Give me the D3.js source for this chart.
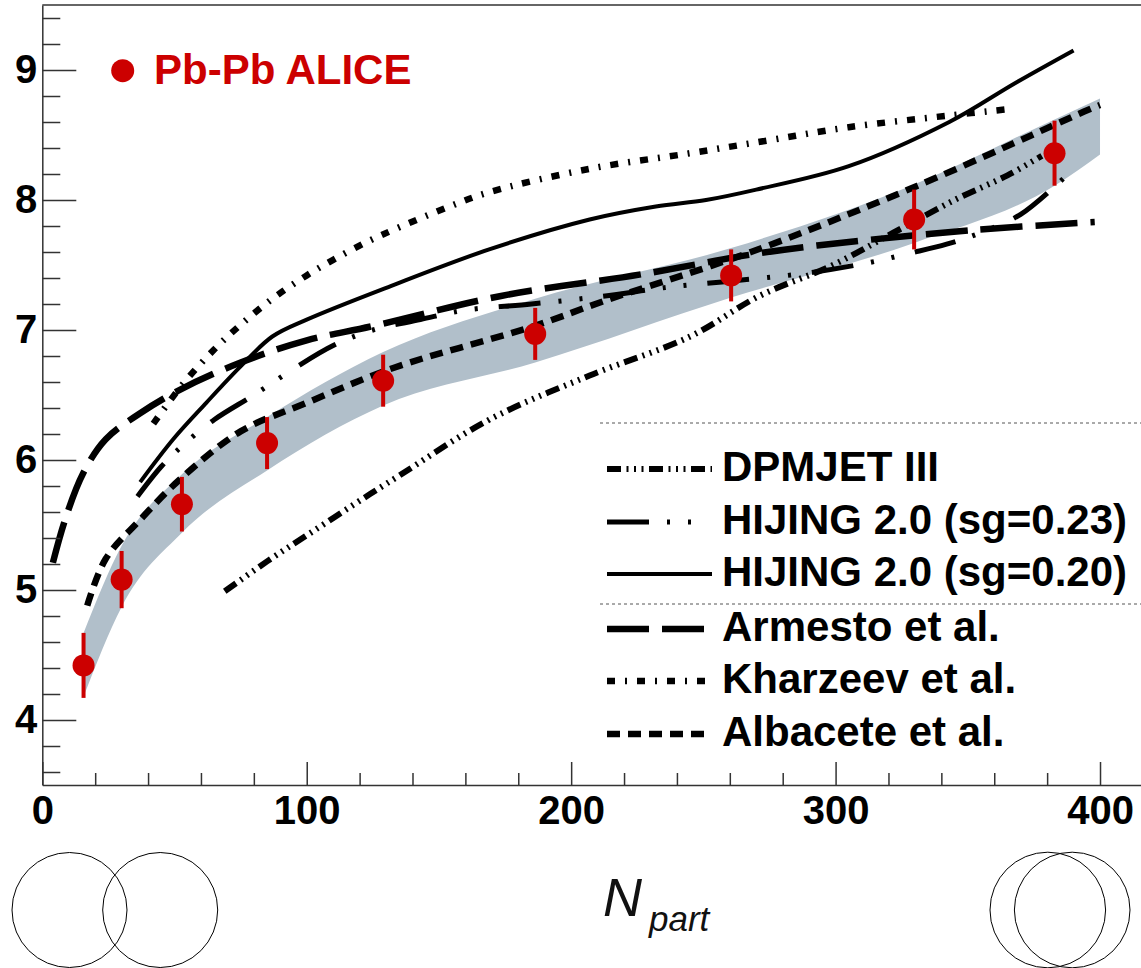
<!DOCTYPE html>
<html>
<head>
<meta charset="utf-8">
<style>
    body { margin: 0; background: #fff; }
    svg { display: block; font-family: 'Liberation Sans', Arial, Helvetica, sans-serif; }
    .axis text { font-size: 40px; font-weight: bold; fill: #000; }
    .axis line, .axis path { stroke: #333; stroke-width: 1.5; }
    .legend-label { font-size: 42px; font-weight: bold; fill: #000; }
    .curve { fill: none; stroke: #000; stroke-linecap: butt; stroke-linejoin: round; }
</style>
</head>
<body>
<svg width="1141" height="968"></svg>

<script src="https://d3js.org/d3.v7.min.js"></script>
<script>
    // ALICE Pb-Pb points: <Npart>, dNch/deta / (0.5 <Npart>), stat error
    const npart = [15.6, 30.0, 52.8, 85.0, 128.9, 186.4, 260.5, 329.7, 382.8];
    const dndeta = [4.42, 5.08, 5.66, 6.13, 6.61, 6.97, 7.42, 7.85, 8.36];
    const errors = [0.25, 0.22, 0.21, 0.20, 0.20, 0.20, 0.20, 0.23, 0.25];

    // grey systematic band
    const bandNpart = [15.6, 30, 52.8, 85, 128.9, 186.4, 260.5, 329.7, 382.8, 400];
    const bandLow = [4.18, 4.87, 5.44, 5.92, 6.42, 6.75, 7.25, 7.67, 8.11, 8.35];
    const bandHigh = [4.67, 5.34, 5.89, 6.33, 6.83, 7.24, 7.63, 8.12, 8.62, 8.78];

    // model curves, [Npart, value]
    const dpmjet = [[69, 4.99], [85, 5.22], [100, 5.42], [118, 5.66], [135, 5.88], [169, 6.31],
        [207, 6.65], [245, 6.95], [271, 7.26], [299, 7.5], [322, 7.75], [345, 8.0], [365, 8.19], [378, 8.34]];
    const hijing23 = [[36, 5.72], [45, 5.95], [53, 6.11], [65, 6.31], [80, 6.5], [95, 6.7],
        [110, 6.88], [125, 7.0], [143, 7.08], [159, 7.15], [185, 7.2], [212, 7.26], [237, 7.33],
        [257, 7.37], [290, 7.44], [313, 7.52], [328, 7.59], [342, 7.66], [355, 7.75], [370, 7.89], [389, 8.22]];
    const hijing20 = [[37, 5.83], [49.5, 6.16], [62, 6.44], [75, 6.72], [87, 6.95], [100, 7.08],
        [132, 7.34], [169, 7.62], [207, 7.85], [232, 7.95], [251, 8.0], [270, 8.08], [305, 8.26],
        [343, 8.6], [368, 8.9], [390, 9.15]];
    const armesto = [[4, 5.21], [8.6, 5.54], [15.5, 5.9], [24, 6.16], [37, 6.36], [52, 6.54],
        [75, 6.75], [100, 6.92], [125, 7.03], [173, 7.26], [227, 7.43], [268, 7.58], [293, 7.65],
        [353, 7.77], [398, 7.83]];
    const kharzeev = [[42, 6.28], [53, 6.58], [65, 6.85], [75, 7.04], [87, 7.24], [100, 7.42],
        [110, 7.54], [123, 7.68], [135, 7.79], [154, 7.95], [169, 8.06], [207, 8.24], [245, 8.36],
        [275, 8.46], [305, 8.56], [343, 8.65], [366, 8.70]];
    const albacete = [[17, 4.88], [24, 5.24], [37, 5.54], [52, 5.85], [75, 6.22], [100, 6.44],
        [133, 6.71], [186, 7.03], [212, 7.22], [268, 7.6], [331, 8.11], [394, 8.68], [400, 8.73]];

    const modelNames = ["DPMJET III", "HIJING 2.0 (sg=0.23)", "HIJING 2.0 (sg=0.20)",
        "Armesto et al.", "Kharzeev et al.", "Albacete et al."];
    const modelData = [dpmjet, hijing23, hijing20, armesto, kharzeev, albacete];

    const xTicks = [0, 100, 200, 300, 400];
    const yTicks = [4, 5, 6, 7, 8, 9];

    // line styles (ROOT-like)
    const modelStyles = [
        { width: 6, dash: "14,5.5,2,5.5,2,5.5,2,5.5" },
        { width: 5, dash: "42,18,3,18,3,21" },
        { width: 4, dash: null },
        { width: 6.5, dash: "42,13" },
        { width: 6.5, dash: "8,10,2,10" },
        { width: 6.5, dash: "13,8" }
    ];

    const red = "#cc0000";
    const svg = d3.select("svg");

    const x = d3.scaleLinear().domain([0, 415.5]).range([42.3, 1141]);
    const y = d3.scaleLinear().domain([3.5, 9.5]).range([785, 5]);

    // band
    const band = bandNpart.map((d, i) => ({ n: d, lo: bandLow[i], hi: bandHigh[i] }));
    svg.append("path")
        .datum(band)
        .attr("fill", "#b1bfca")
        .attr("d", d3.area()
            .curve(d3.curveMonotoneX)
            .x(d => x(d.n))
            .y0(d => y(d.lo))
            .y1(d => y(d.hi)));

    // model curves
    const line = d3.line()
        .curve(d3.curveCatmullRom.alpha(0.5))
        .x(d => x(d[0]))
        .y(d => y(d[1]));

    svg.append("g")
        .selectAll("path")
        .data(modelData)
        .join("path")
        .attr("class", "curve")
        .attr("d", line)
        .attr("stroke-width", (d, i) => modelStyles[i].width)
        .attr("stroke-dasharray", (d, i) => modelStyles[i].dash);

    // axes
    const yMinor = d3.range(36, 95, 2).map(d => d / 10).filter(d => Math.abs(d - Math.round(d)) > 0.01);
    const xMinor = d3.range(20, 420, 20).filter(d => d % 100 !== 0);

    svg.append("g")
        .attr("class", "axis")
        .attr("transform", `translate(${x(0)},0)`)
        .call(d3.axisLeft(y).tickValues(yMinor).tickSizeInner(-18).tickSizeOuter(0).tickFormat(""))
        .call(g => g.select(".domain").remove());

    svg.append("g")
        .attr("class", "axis")
        .attr("transform", `translate(${x(0)},0)`)
        .call(d3.axisLeft(y).tickValues(yTicks).tickSizeInner(-34).tickSizeOuter(0).tickPadding(5)
            .tickFormat(d3.format("d")));

    svg.append("g")
        .attr("class", "axis")
        .attr("transform", `translate(0,${y(3.5)})`)
        .call(d3.axisBottom(x).tickValues(xMinor).tickSizeInner(-12).tickSizeOuter(0).tickFormat(""))
        .call(g => g.select(".domain").remove());

    svg.append("g")
        .attr("class", "axis")
        .attr("transform", `translate(0,${y(3.5)})`)
        .call(d3.axisBottom(x).tickValues(xTicks).tickSizeInner(-23).tickSizeOuter(0).tickPadding(11)
            .tickFormat(d3.format("d")));

    // top frame
    svg.append("line")
        .attr("x1", x(0)).attr("x2", x(415.5))
        .attr("y1", y(9.5)).attr("y2", y(9.5))
        .attr("stroke", "#333").attr("stroke-width", 1.5);

    // data points with error bars
    const pts = npart.map((d, i) => ({ n: d, v: dndeta[i], e: errors[i] }));
    const ptG = svg.append("g");
    ptG.selectAll("line")
        .data(pts)
        .join("line")
        .attr("x1", d => x(d.n)).attr("x2", d => x(d.n))
        .attr("y1", d => y(d.v - d.e)).attr("y2", d => y(d.v + d.e))
        .attr("stroke", red).attr("stroke-width", 4);
    ptG.selectAll("circle")
        .data(pts)
        .join("circle")
        .attr("cx", d => x(d.n)).attr("cy", d => y(d.v))
        .attr("r", 11)
        .attr("fill", red);

    // ALICE legend
    svg.append("circle")
        .attr("cx", 122.7).attr("cy", 70.7).attr("r", 11.5)
        .attr("fill", red);
    svg.append("text")
        .attr("x", 154).attr("y", 83.5)
        .attr("font-size", 42).attr("font-weight", "bold")
        .attr("fill", red)
        .text("Pb-Pb ALICE");

    // model legend
    const legRows = [466, 519, 571, 626, 678, 731];
    const leg = svg.append("g");
    leg.selectAll("line")
        .data(modelNames)
        .join("line")
        .attr("class", "curve")
        .attr("x1", 607).attr("x2", 712)
        .attr("y1", (d, i) => legRows[i] + 3).attr("y2", (d, i) => legRows[i] + 3)
        .attr("stroke-width", (d, i) => modelStyles[i].width)
        .attr("stroke-dasharray", (d, i) => modelStyles[i].dash);
    leg.selectAll("text")
        .data(modelNames)
        .join("text")
        .attr("class", "legend-label")
        .attr("x", 722)
        .attr("y", (d, i) => legRows[i] + 15)
        .text(d => d);

    // dotted separators
    [423, 604].forEach(yy => {
        svg.append("line")
            .attr("x1", 600).attr("x2", 1141)
            .attr("y1", yy).attr("y2", yy)
            .attr("stroke", "#555").attr("stroke-width", 1)
            .attr("stroke-dasharray", "3,3");
    });

    // axis title
    svg.append("text")
        .attr("x", 603).attr("y", 916)
        .attr("font-size", 54).attr("font-style", "italic").attr("fill", "#111")
        .text("N");
    svg.append("text")
        .attr("x", 649).attr("y", 931)
        .attr("font-size", 35).attr("font-style", "italic").attr("fill", "#111")
        .text("part");

    // colliding nuclei sketches
    const nuclei = [
        { cx: 69.5, r: 57.5 }, { cx: 160.2, r: 57.5 },
        { cx: 1047.8, r: 57.8 }, { cx: 1072.2, r: 57.8 }
    ];
    svg.append("g")
        .selectAll("circle")
        .data(nuclei)
        .join("circle")
        .attr("cx", d => d.cx).attr("cy", 910).attr("r", d => d.r)
        .attr("fill", "none").attr("stroke", "#000").attr("stroke-width", 1);
</script>
</body>
</html>
